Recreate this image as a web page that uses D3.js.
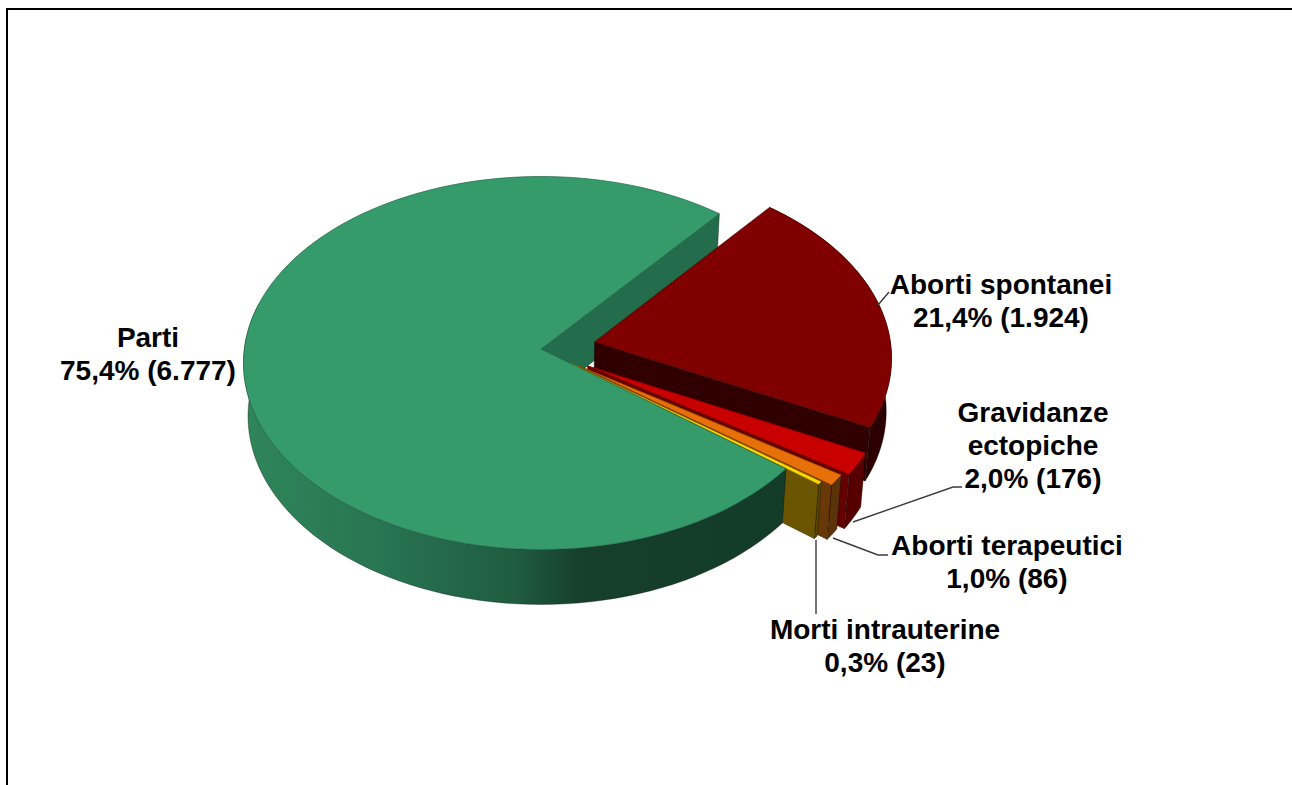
<!DOCTYPE html>
<html>
<head>
<meta charset="utf-8">
<script src="https://cdn.jsdelivr.net/npm/d3@7"></script>
<style>
  html, body { margin: 0; padding: 0; background: #fff; overflow: hidden; }
  text { font-family: "Liberation Sans", Arial, sans-serif; font-weight: bold; font-size: 28px; fill: #000; }
</style>
</head>
<body>
<div id="chart"></div>
<script>
// data
const categories = ["Parti", "Aborti spontanei", "Gravidanze ectopiche", "Aborti terapeutici", "Morti intrauterine"];
const values = [6777, 1924, 176, 86, 23];
const valueLabels = ["75,4% (6.777)", "21,4% (1.924)", "2,0% (176)", "1,0% (86)", "0,3% (23)"];

// styles, same order as categories
const topColors = ["#359b6b", "#800000", "#c80000", "#e87008", "#ffd800"];
const radialColors = ["#246d4c", "#300000", "#640000", "#683808", "#6b5500"];
const outerColors = ["url(#wallGreen)", "#2c0000", "#560000", "#5c3208", "#5a4a00"];
const explode = [0, 0.185, 0.18, 0.16, 0.125];

// label placement: centre x, first baseline, wrapped lines
const labelX = [148, 1001, 1033, 1007, 885];
const labelY = [347, 294, 422, 555, 639];
const labelLines = [["Parti"], ["Aborti spontanei"], ["Gravidanze", "ectopiche"], ["Aborti terapeutici"], ["Morti intrauterine"]];

// leader lines, not drawn for Parti
const leaders = [
  [[878, 305], [889, 292]],
  [[853, 522], [953, 487], [962, 487]],
  [[833, 538], [878, 555], [888, 555]],
  [[816, 540], [816, 614]]
];

const width = 1292, height = 785;

const svg = d3.select("#chart").append("svg")
    .attr("width", width)
    .attr("height", height)
    .style("display", "block");

// frame, only top and left are in the picture
svg.append("path")
    .attr("d", "M7,785V9H1292")
    .attr("fill", "none")
    .attr("stroke", "#000")
    .attr("stroke-width", 2);

const grad = svg.append("defs").append("linearGradient")
    .attr("id", "wallGreen")
    .attr("gradientUnits", "userSpaceOnUse")
    .attr("x1", 245).attr("x2", 785).attr("y1", 0).attr("y2", 0);
[[0, "#2f8659"], [0.25, "#287552"], [0.5, "#1f5c40"], [0.62, "#163f2c"], [1, "#123b28"]].forEach(s => {
  grad.append("stop").attr("offset", s[0]).attr("stop-color", s[1]);
});

// the disc seen in perspective
const tilt = 0.075;
const xScale = d3.scaleLinear().domain([-1, 1]).range([243.5, 838.5]);
const yScale = d3.scaleLinear().domain([-1, 1]).range([176.5, 549.5]);

function project(u, v) {
  const w = 1 - tilt * v;
  return [xScale(u * Math.sqrt(1 - tilt * tilt) / w), yScale((v - tilt) / w)];
}

// same point on the bottom face
function drop(p) {
  return [541 + (p[0] - 541) * 0.985, p[1] + 55 - 0.01 * (550 - p[1])];
}

const pie = d3.pie().sort(null).startAngle(128 * Math.PI / 180).endAngle((128 + 360) * Math.PI / 180);
const slices = pie(values);

slices.forEach((s, i) => {
  const mid = (s.startAngle + s.endAngle) / 2;
  s.dx = Math.sin(mid) * explode[i];
  s.dy = -Math.cos(mid) * explode[i];
  s.at = function(a, r) {
    return project(Math.sin(a) * r + s.dx, -Math.cos(a) * r + s.dy);
  };
  s.rim = d3.range(0, 1.0001, 1 / 120).map(t => {
    return s.at(s.startAngle + t * (s.endAngle - s.startAngle), 1);
  });
  s.apex = s.at(0, 0);
});

const line = d3.line();
const closed = d3.line().curve(d3.curveLinearClosed);

function wall(points) {
  return closed(points.concat(points.map(drop).reverse()));
}

function drawTop(s, i, g) {
  g.append("path")
      .attr("d", closed([s.apex].concat(s.rim)))
      .attr("fill", topColors[i])
      .attr("stroke", d3.color(topColors[i]).darker(1.2))
      .attr("stroke-width", 0.7);
}

function drawWall(points, color, g) {
  g.append("path")
      .attr("d", wall(points))
      .attr("fill", color)
      .attr("stroke", "#000")
      .attr("stroke-opacity", 0.45)
      .attr("stroke-width", 0.7);
}

const pieGroup = svg.append("g");

// inner wall of the big slice goes first, everything else sits on it
const parti = slices[0];
drawWall([parti.apex, parti.rim[parti.rim.length - 1]], radialColors[0], pieGroup);

// exploded slices, back to front
for (let i = 1; i < slices.length; i++) {
  const s = slices[i];
  drawWall(s.rim, outerColors[i], pieGroup);
  drawWall([s.apex, s.rim[s.rim.length - 1]], radialColors[i], pieGroup);
  drawTop(s, i, pieGroup);
}

// the big slice hides the back of the small ones
drawWall(parti.rim.slice(0, 70), outerColors[0], pieGroup);
drawTop(parti, 0, pieGroup);

// leaders
svg.append("g").selectAll("path")
  .data(leaders)
  .join("path")
    .attr("d", d => line(d))
    .attr("fill", "none")
    .attr("stroke", "#3c3c3c")
    .attr("stroke-width", 1.4);

// labels
const labels = svg.append("g").selectAll("text")
  .data(categories)
  .join("text")
    .attr("text-anchor", "middle")
    .attr("y", (d, i) => labelY[i]);

labels.each(function(d, i) {
  const t = d3.select(this);
  labelLines[i].concat(valueLabels[i]).forEach((txt, n) => {
    t.append("tspan")
        .attr("x", labelX[i])
        .attr("dy", n === 0 ? 0 : 33)
        .text(txt);
  });
});
</script>
</body>
</html>
